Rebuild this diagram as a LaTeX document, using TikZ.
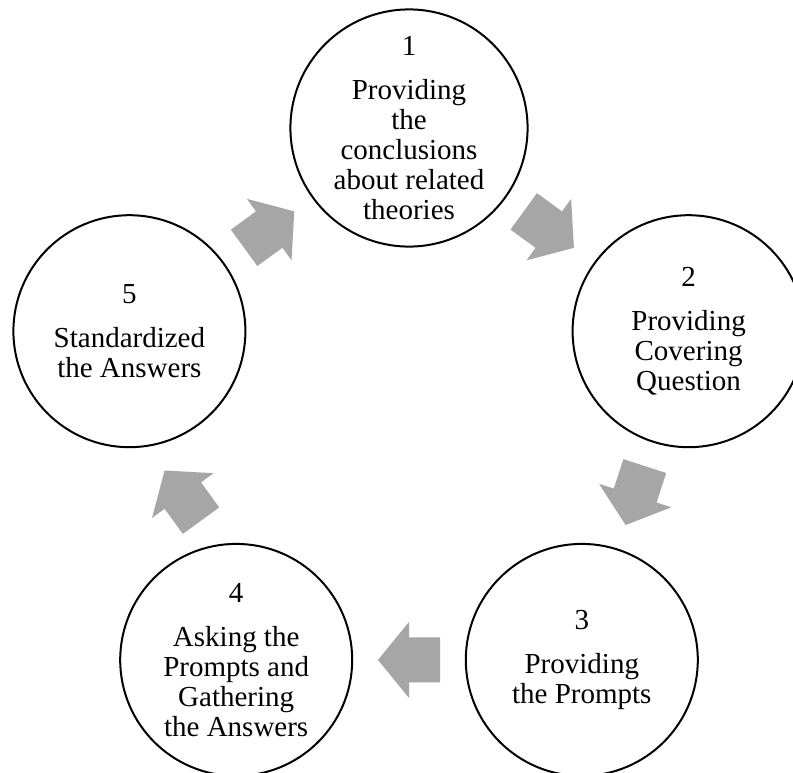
\documentclass[tikz,border=0pt]{standalone}
\usepackage{fontspec}
\setmainfont{Liberation Serif}
\usetikzlibrary{calc}
\definecolor{arrowgray}{RGB}{166,166,166}

\begin{document}
\begin{tikzpicture}[x=0.5pt, y=-0.5pt,
        stepcircle/.style={circle, draw, line width=1pt, minimum size=116pt, inner sep=0pt, align=center, font=\fontsize{14.5}{15}\selectfont},
        blockarrow/.style={fill=arrowgray}]
\path[use as bounding box, fill=white] (0,0) rectangle (793,772);
\node[stepcircle] (s1) at (409,128) {1\\[7pt]Providing\\the\\conclusions\\about related\\theories}; % Step.1
\node[stepcircle] (s2) at (688.6,331.2) {2\\[7pt]Providing\\Covering\\Question}; % Step.2
\node[stepcircle] (s3) at (581.8,659.9) {3\\[7pt]Providing\\the Prompts}; % Step.3
\node[stepcircle] (s4) at (236.2,659.9) {4\\[7pt]Asking the\\Prompts and\\Gathering\\the Answers}; % Step.4
\node[stepcircle] (s5) at (129.4,331.2) {5\\[7pt]Standardized\\the Answers}; % Step.5
\fill[blockarrow, shift={($(s1)!0.5!(s2)$)}, rotate=-36] (-31,-22.5) -- (0,-22.5) -- (0,-38) -- (31,0) -- (0,38) -- (0,22.5) -- (-31,22.5) -- cycle; % s1.s2
\fill[blockarrow, shift={($(s2)!0.5!(s3)$)}, rotate=-108] (-31,-22.5) -- (0,-22.5) -- (0,-38) -- (31,0) -- (0,38) -- (0,22.5) -- (-31,22.5) -- cycle; % s2.s3
\fill[blockarrow, shift={($(s3)!0.5!(s4)$)}, rotate=180] (-31,-22.5) -- (0,-22.5) -- (0,-38) -- (31,0) -- (0,38) -- (0,22.5) -- (-31,22.5) -- cycle; % s3.s4
\fill[blockarrow, shift={($(s4)!0.5!(s5)$)}, rotate=126] (-31,-22.5) -- (0,-22.5) -- (0,-38) -- (31,0) -- (0,38) -- (0,22.5) -- (-31,22.5) -- cycle; % s4.s5
\fill[blockarrow, shift={($(s5)!0.5!(s1)$)}, rotate=36] (-31,-22.5) -- (0,-22.5) -- (0,-38) -- (31,0) -- (0,38) -- (0,22.5) -- (-31,22.5) -- cycle; % s5.s1
\end{tikzpicture}
\end{document}
